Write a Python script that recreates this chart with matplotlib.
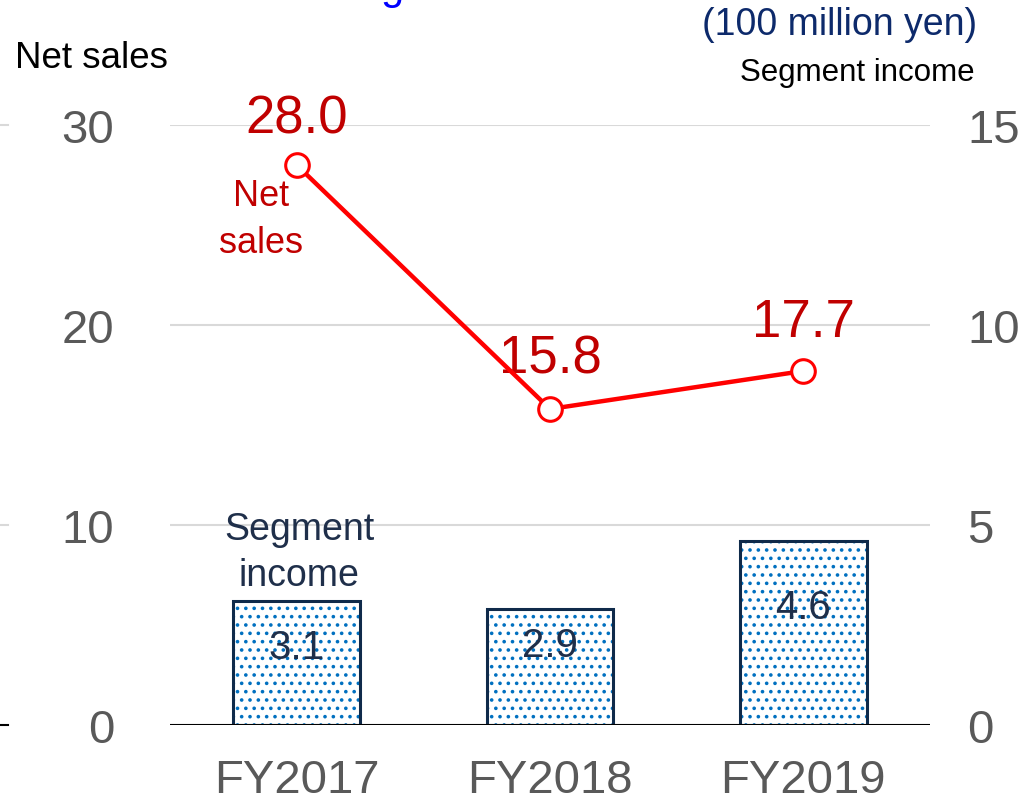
import matplotlib
matplotlib.use("Agg")
import matplotlib.pyplot as plt
import matplotlib.transforms as mtransforms

plt.rcParams['font.family'] = ['Liberation Sans', 'DejaVu Sans']
plt.rcParams['hatch.linewidth'] = 1.4

categories = ["FY2017", "FY2018", "FY2019"]
net_sales = [28.0, 15.8, 17.7]
segment_income = [3.1, 2.9, 4.6]
left_ticks = [0, 10, 20, 30]
right_ticks = [0, 5, 10, 15]

fig = plt.figure(figsize=(10.19, 8.03), dpi=100)
ax = fig.add_axes([170/1019, 1-726/803, 760/1019, 600/803])
ax2 = ax.twinx()

x = list(range(len(categories)))

# bars on right axis
ax2.bar(x, segment_income, width=0.5, color='white', edgecolor='#0070C0',
        hatch='..', linewidth=0, zorder=2)
ax2.bar(x, segment_income, width=0.5, fill=False, edgecolor='#0F2A4A',
        linewidth=2.2, zorder=3)
bar_label_y = [1.95, 2.0, 2.95]
for xi, v, ly in zip(x, segment_income, bar_label_y):
    ax2.text(xi, ly, f"{v:.1f}", ha='center', va='center',
             fontsize=29, color='#1F2F4A', zorder=4)

ax.set_ylim(0, 30)
ax2.set_ylim(0, 15)
ax.set_xlim(-0.5, 2.5)

# grid
for t in left_ticks[1:]:
    ax.axhline(t, color='#D9D9D9', lw=1.5, zorder=0)
ax2.axhline(0, color='black', lw=1.5, zorder=5)

# put line axis on top
ax.set_zorder(ax2.get_zorder() + 1)
ax.patch.set_visible(False)

ax.plot(x, net_sales, color='#FF0000', lw=3.2, marker='o', markersize=17,
        markerfacecolor='white', markeredgecolor='#FF0000', markeredgewidth=2.2, zorder=6)
offsets = [2.3, 2.5, 2.45]
for xi, v, o in zip(x, net_sales, offsets):
    ax.text(xi, v + o, f"{v:.1f}", ha='center', va='center',
            fontsize=38, color='#C00000')

# annotations
ax.text(-0.14, 25.3, "Net\nsales", ha='center', va='center', fontsize=26,
        color='#C00000', linespacing=1.45)
ax.text(0.01, 8.65, "Segment\nincome", ha='center', va='center', fontsize=27,
        color='#1F2F4A', linespacing=1.35)

for a in (ax, ax2):
    for s in a.spines.values():
        s.set_visible(False)

ax.set_yticks(left_ticks)
ax.set_yticklabels([str(t) for t in left_ticks])
ax2.set_yticks(right_ticks)
ax2.set_yticklabels([str(t) for t in right_ticks])
ax.set_xticks(x)
ax.set_xticklabels(categories)
ax.tick_params(axis='y', length=0, pad=40, labelsize=34, labelcolor='#595959')
ax2.tick_params(axis='y', length=0, pad=27, labelsize=34, labelcolor='#595959')
ax.tick_params(axis='x', length=0, pad=24, labelsize=34, labelcolor='#595959')
ax2.tick_params(axis='x', length=0)

# small tick stubs at the far left edge of the figure
trans = mtransforms.blended_transform_factory(fig.transFigure, ax.transData)
for t, c in [(30, '#D9D9D9'), (10, '#D9D9D9'), (0, 'black')]:
    ax.plot([0, 8/1019], [t, t], color=c, lw=1.5, transform=trans, clip_on=False)

fig.text(15/1019, 1-58/803, "Net sales", ha='left', va='center', fontsize=26.5, color='black')
fig.text(977/1019, 1-25/803, "(100 million yen)", ha='right', va='center', fontsize=27,
         color='#0D2A6B')
fig.text(975/1019, 1-73/803, "Segment income", ha='right', va='center', fontsize=22.5,
         color='black')
fig.text(392/1019, 1 + 12/803, "g", ha='center', va='center', fontsize=30, color='#0000FF')

fig.savefig("out.png", dpi=100)
